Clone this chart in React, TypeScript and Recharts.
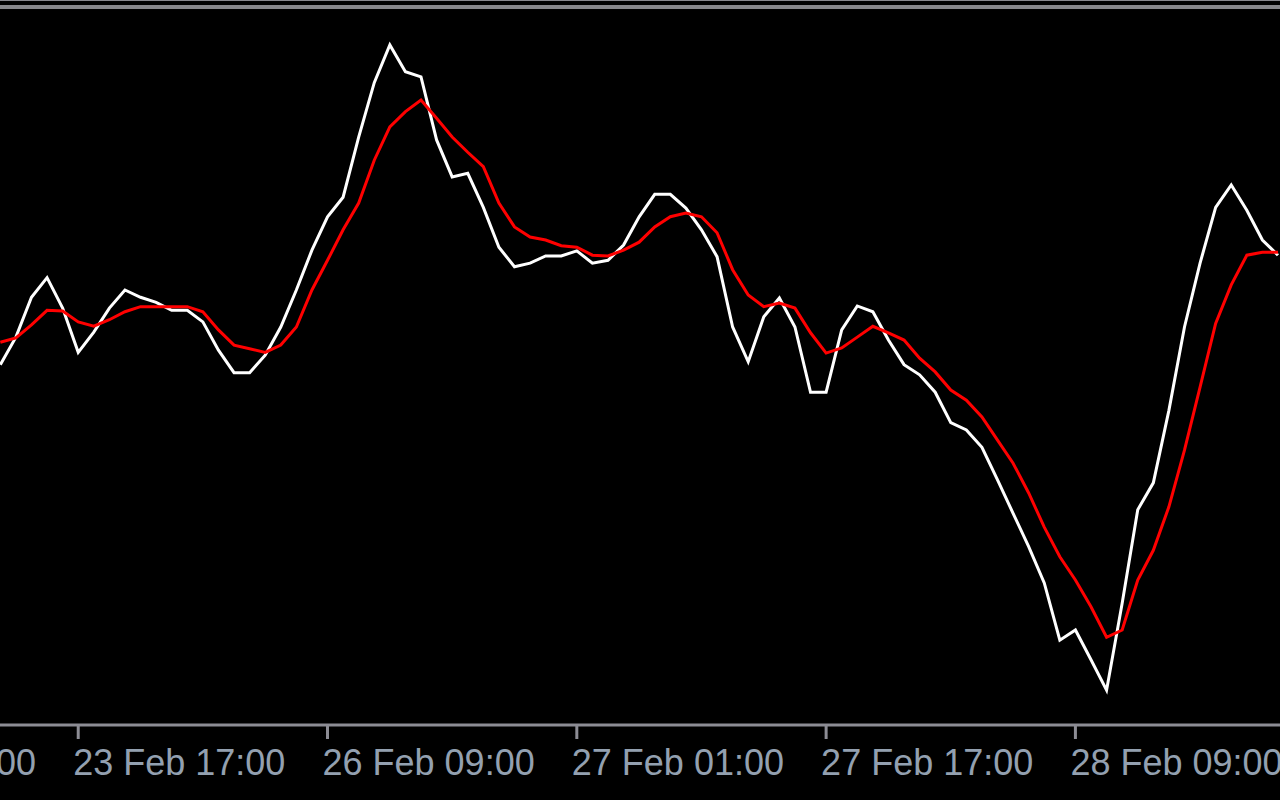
import { LineChart, Line, XAxis, YAxis } from 'recharts';

// hourly bars, index 0 = left edge of the window
const bars = Array.from({ length: 83 }, (_, i) => i);

const mainLine = [
  49.7, 53.5, 59.0, 61.7, 57.5, 51.4, 54.2, 57.5, 60.0, 59.0,
  58.3, 57.2, 57.2, 55.6, 51.7, 48.6, 48.6, 51.0, 54.9, 60.0,
  65.5, 70.1, 72.8, 81.1, 88.6, 93.8, 90.1, 89.4, 80.7, 75.6,
  76.1, 71.4, 65.9, 63.2, 63.7, 64.7, 64.7, 65.4, 63.7, 64.1,
  66.2, 70.1, 73.2, 73.2, 71.3, 68.3, 64.6, 54.9, 50.1, 56.3,
  58.9, 54.9, 45.9, 45.9, 54.5, 57.8, 57.0, 53.1, 49.7, 48.3,
  45.9, 41.7, 40.7, 38.3, 33.8, 29.2, 24.6, 19.6, 11.7, 13.1,
  9.0, 4.8, 16.8, 29.7, 33.4, 43.4, 54.9, 63.7, 71.4, 74.5,
  71.0, 66.9, 64.8,
];

const signalLine = [
  52.8, 53.4, 55.2, 57.2, 57.1, 55.6, 55.0, 55.9, 57.0, 57.7,
  57.7, 57.7, 57.7, 57.0, 54.5, 52.4, 51.9, 51.4, 52.4, 54.9,
  60.0, 64.1, 68.3, 72.0, 77.9, 82.5, 84.6, 86.2, 83.7, 81.1,
  79.0, 77.0, 72.0, 68.7, 67.3, 66.9, 66.1, 65.9, 64.8, 64.7,
  65.5, 66.6, 68.7, 70.1, 70.6, 70.1, 67.9, 62.8, 59.3, 57.7,
  58.2, 57.5, 54.1, 51.3, 52.0, 53.5, 55.0, 54.1, 53.1, 50.6,
  48.7, 46.2, 44.8, 42.5, 39.3, 36.1, 32.0, 27.3, 23.2, 20.0,
  16.3, 12.1, 13.1, 20.0, 24.1, 30.1, 37.9, 46.6, 55.4, 60.7,
  64.8, 65.2, 65.2,
];

const tickBars = [-11, 5, 21, 37, 53, 69];
const tickLabels = [
  '23 Feb 01:00',
  '23 Feb 17:00',
  '26 Feb 09:00',
  '27 Feb 01:00',
  '27 Feb 17:00',
  '28 Feb 09:00',
];

const data = bars.map((b, i) => ({ bar: b, main: mainLine[i], signal: signalLine[i] }));

function TimeTick(props: any) {
  const { x, payload } = props;
  const idx = tickBars.indexOf(payload.value);
  return (
    <text
      x={x - 5}
      y={775}
      textAnchor="start"
      fill="#93a0b0"
      fontFamily="'Liberation Sans', Arial, sans-serif"
      fontSize={36}
    >
      {tickLabels[idx]}
    </text>
  );
}

export default function App() {
  return (
    <div
      style={{
        position: 'absolute',
        left: 0,
        top: 0,
        width: 1280,
        height: 800,
        background: '#000',
        overflow: 'hidden',
      }}
    >
      <div style={{ position: 'absolute', left: 0, top: 0, width: 1280, height: 1, background: '#86868c' }} />
      <div style={{ position: 'absolute', left: 0, top: 4.5, width: 1280, height: 4.5, background: '#86868a' }} />
      <LineChart width={1280} height={800} data={data} margin={{ top: 0, right: 0, bottom: 0, left: 0 }}>
        <XAxis
          dataKey="bar"
          type="number"
          domain={[-0.02, 82.13]}
          ticks={tickBars}
          interval={0}
          allowDataOverflow
          height={75}
          tickSize={14}
          axisLine={{ stroke: '#8c8c94', strokeWidth: 3 }}
          tickLine={{ stroke: '#8c8c94', strokeWidth: 3 }}
          tick={<TimeTick />}
        />
        <YAxis hide domain={[0, 100]} allowDataOverflow />
        <Line
          type="linear"
          dataKey="main"
          stroke="#ffffff"
          strokeWidth={3}
          dot={false}
          activeDot={false}
          isAnimationActive={false}
        />
        <Line
          type="linear"
          dataKey="signal"
          stroke="#ff0000"
          strokeWidth={3}
          dot={false}
          activeDot={false}
          isAnimationActive={false}
        />
      </LineChart>
    </div>
  );
}
